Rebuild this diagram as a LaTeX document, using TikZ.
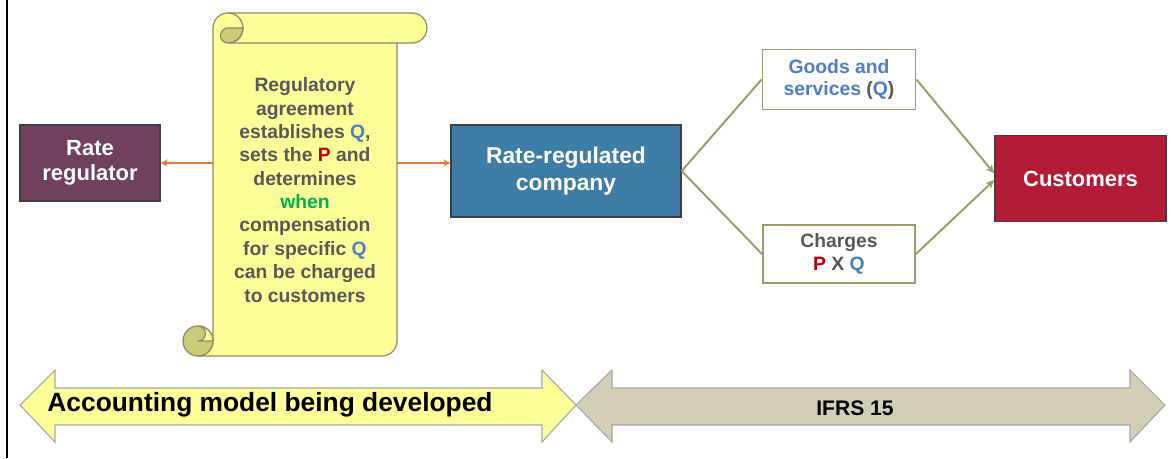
\documentclass[tikz,border=0pt]{standalone}
\usepackage{fontspec}
\setmainfont{Liberation Sans}
\usetikzlibrary{positioning,arrows.meta}

\definecolor{regpurple}{HTML}{72405F}
\definecolor{compblue}{HTML}{3E7EA6}
\definecolor{custred}{HTML}{B31B37}
\definecolor{lineolive}{HTML}{9E9A6C}
\definecolor{arrorange}{HTML}{E8793A}
\definecolor{scrollyellow}{HTML}{FFFF99}
\definecolor{scrolldark}{HTML}{CBCB78}
\definecolor{scrollline}{HTML}{8C8C6A}
\definecolor{ifrstan}{HTML}{D3CEB6}
\definecolor{txtgray}{HTML}{595959}
\definecolor{qblue}{HTML}{4A7EC7}
\definecolor{pred}{HTML}{C00000}
\definecolor{whengreen}{HTML}{00B050}
\definecolor{goodsblue}{HTML}{4F7FC8}

\newcommand{\Qsym}{{\color{qblue}Q}}
\newcommand{\Psym}{{\color{pred}P}}

\begin{document}
\begin{tikzpicture}[x=0.02cm, y=0.02cm,
  solidbox/.style={draw=black!75, line width=0.8pt, text=white, align=center,
    font=\fontsize{12.5}{14.2}\selectfont\bfseries},
  flowbox/.style={draw=lineolive, line width=1.1pt, fill=white, align=center,
    font=\fontsize{11}{13}\selectfont\bfseries},
  flowlink/.style={draw=lineolive, line width=1.1pt},
  flowline/.style={flowlink, -{Stealth[length=5pt,width=4.5pt]}},
  feedline/.style={draw=arrorange, line width=0.9pt, -{Stealth[length=4pt,width=4pt]}},
  bandarrow/.style={draw=gray!70, line width=0.6pt},
  scrollpart/.style={draw=scrollline, line width=0.7pt}]

\useasboundingbox (0,0) rectangle (1171,458);
\draw[line width=1pt] (7,0) -- (7,458);

% scroll
\filldraw[scrollpart, fill=scrollyellow] (198,102) arc[start angle=270, end angle=360, radius=15]
  -- (213,430) arc[start angle=180, end angle=90, radius=15]
  -- (412,445) arc[start angle=90, end angle=-90, radius=15]
  -- (397,415) -- (397,117) arc[start angle=0, end angle=-90, radius=15] -- cycle;
\filldraw[scrollpart, fill=scrolldark] (198,117) circle[radius=15];
\filldraw[scrollpart, fill=scrollyellow] (198,117) -- (213,117) arc[start angle=0, end angle=90, radius=15]
  arc[start angle=90, end angle=-90, radius=7.5] -- cycle;
\filldraw[scrollpart, fill=scrolldark] (243,430) arc[start angle=0, end angle=-90, radius=15]
  arc[start angle=270, end angle=90, radius=7.5] -- cycle;
\draw[scrollpart] (228,445) arc[start angle=90, end angle=-90, radius=15] -- (397,415);

\node (agreement) at (305,268) [font=\fontsize{11}{13.3}\selectfont\bfseries, text=txtgray, align=center]
  {Regulatory\\agreement\\establishes \Qsym,\\sets the \Psym{} and\\determines\\{\color{whengreen}when}\\compensation\\for specific \Qsym\\can be charged\\to customers};
\coordinate (scrollW) at (213,295);
\coordinate (scrollE) at (397,295);

\node (regulator) at (90,295) [solidbox, fill=regpurple, minimum width=2.8cm, minimum height=1.52cm] {Rate\\regulator};
\node (company) at (566,287) [solidbox, fill=compblue, minimum width=4.6cm, minimum height=1.84cm,
  font=\fontsize{13}{15.5}\selectfont\bfseries] {Rate-regulated\\company};
\node (goods) at (839,378.5) [flowbox, minimum width=3.06cm, minimum height=1.2cm, text=goodsblue]
  {Goods and\\services {\color{txtgray}(}\Qsym{\color{txtgray})}};
\node (charges) at (839,204) [flowbox, minimum width=3.04cm, minimum height=1.16cm, text=txtgray]
  {Charges\\\Psym{} X \Qsym};
\node (customers) at (1080.5,279.5) [solidbox, fill=custred, minimum width=3.42cm, minimum height=1.72cm] {Customers};

\draw[feedline] (scrollW) to (regulator.east);
\draw[feedline] (scrollE) to (scrollE -| company.west);

\draw[flowlink] (company.east) to (goods.west);
\draw[flowlink] (company.east) to (charges.west);
\draw[flowline] (goods.east) to ([yshift=0.1cm]customers.west);
\draw[flowline] (charges.east) to ([yshift=-0.03cm]customers.west);

% timeline bands
\filldraw[bandarrow, fill=scrollyellow] (20,53) -- (55,88) -- (55,70) -- (542,70) -- (542,88) -- (576,53)
  -- (542,16) -- (542,33) -- (55,33) -- (55,16) -- cycle;
\filldraw[bandarrow, fill=ifrstan] (576,53) -- (612,88) -- (612,70) -- (1130,70) -- (1130,88) -- (1165,53)
  -- (1130,16) -- (1130,33) -- (612,33) -- (612,16) -- cycle;
\node (modeltext) at (270,53) [font=\fontsize{15}{18}\selectfont\bfseries] {Accounting model being developed};
\node (ifrstext) at (855,50) [font=\fontsize{12}{14}\selectfont\bfseries] {IFRS 15};
\end{tikzpicture}
\end{document}
